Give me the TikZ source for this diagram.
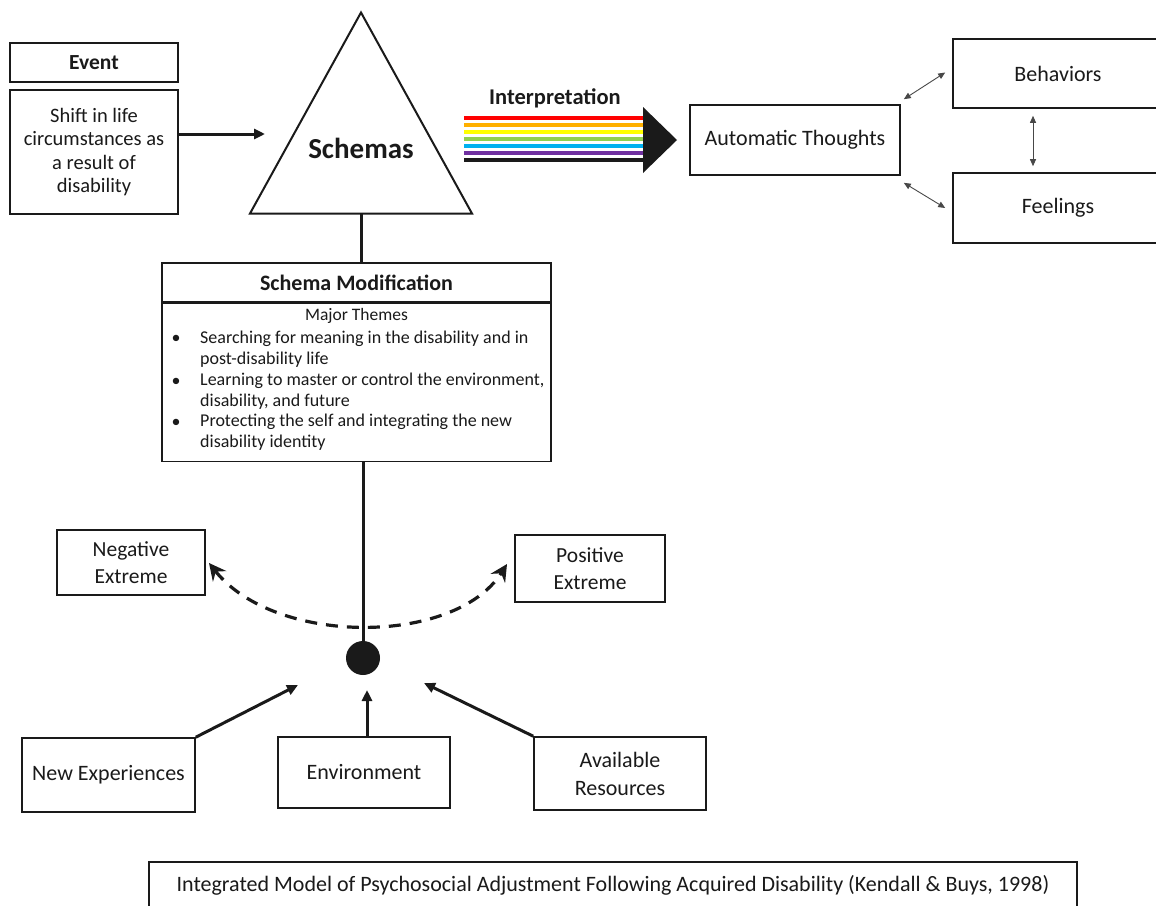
\documentclass[tikz,border=0pt]{standalone}
\usepackage{fontspec}
\setmainfont{Carlito}
\usepackage{xcolor}
\usetikzlibrary{arrows.meta,calc}
\definecolor{ink}{HTML}{1A1A1A}
\definecolor{rbred}{HTML}{FF0000}
\definecolor{rborange}{HTML}{FFB000}
\definecolor{rbyellow}{HTML}{FFFF00}
\definecolor{rbgreen}{HTML}{92D050}
\definecolor{rbblue}{HTML}{00B0F0}
\definecolor{rbpurple}{HTML}{7030A0}
\newcommand{\fs}[2]{\fontsize{#1}{#2}\selectfont}
\tikzset{
  box/.style={
    draw=ink, line width=1.6pt, fill=white, text=ink, align=center,
    inner sep=0pt, font=\fs{22}{26}
  },
  headbox/.style={box, font=\bfseries\fs{22}{26}},
  themes/.style={text=ink, align=left, inner sep=0pt, font=\fs{18}{21}},
  feed/.style={-{Triangle[length=11pt,width=10pt]}, line width=3pt, draw=ink},
  swing/.style={
    {Stealth[length=17pt,width=17pt,inset=6pt]}-{Stealth[length=17pt,width=17pt,inset=6pt]},
    line width=3.2pt, draw=ink, dash pattern=on 12pt off 9pt
  },
  link/.style={{Triangle[length=7pt,width=6pt]}-{Triangle[length=7pt,width=6pt]}, line width=0.9pt, draw=ink!80},
  stem/.style={line width=3pt, draw=ink}
}

\begin{document}
\begin{tikzpicture}[x=1pt,y=-1pt]
  \useasboundingbox (0,0) rectangle (1156,905);
  \clip (0,0) rectangle (1156,905);

  % ---- Event ----
  \node[headbox, minimum width=168pt, minimum height=39pt, font=\bfseries\fs{21.5}{26}] (event) at (94,62.5) {Event};
  \node[box, minimum width=168pt, minimum height=124pt, font=\fs{20.5}{23.5}] (shift) at (94,152)
     {Shift in life\\circumstances as\\a result of\\disability};

  % ---- Schemas ----
  \coordinate (apex) at (361,12.5);
  \coordinate (tbl) at (250,213.5);
  \coordinate (tbr) at (472,213.5);
  \coordinate (tin) at (265,134);
  \coordinate (tbase) at (361,213.5);
  \draw[line width=2pt, draw=ink, fill=white] (apex) -- (tbr) -- (tbl) -- cycle;
  \node[font=\bfseries\fs{29}{34}, text=ink] (schemas) at (361,148) {Schemas};
  \draw[feed] (shift.east |- tin) -- (tin);

  % ---- Schema modification ----
  \node[headbox, minimum width=389pt, minimum height=39pt] (modhead) at (356.5,282.5) {Schema Modification};
  \node[box, minimum width=389pt, minimum height=158pt, anchor=north] (modbody) at (modhead.south) {};
  \node[themes, font=\fs{17.5}{21}] (major) at (356.5,316) {Major Themes};
  \node[themes] (dot1) at (176,339) {\textbullet};
  \node[themes] (dot2) at (176,382) {\textbullet};
  \node[themes] (dot3) at (176,423) {\textbullet};
  \node[themes, anchor=north west] (theme1) at (200,331)
     {Searching for meaning in the disability and in\\post-disability life};
  \node[themes, anchor=north west] (theme2) at (200,373)
     {Learning to master or control the environment,\\disability, and future};
  \node[themes, anchor=north west] (theme3) at (200,414)
     {Protecting the self and integrating the new\\disability identity};

  % ---- Pivot ----
  \node[circle, fill=ink, minimum size=34pt, inner sep=0pt] (pivot) at (363,658) {};
  \draw[stem] (tbase) -- (tbase |- modhead.north);
  \draw[stem] (modbody.south -| pivot) -- (pivot);

  % ---- Extremes ----
  \node[box, minimum width=148pt, minimum height=65pt, font=\fs{21.5}{27}] (neg) at (131,562.5) {Negative\\Extreme};
  \node[box, minimum width=150pt, minimum height=67pt, font=\fs{21.5}{27}] (pos) at (590,568.5) {Positive\\Extreme};
  \coordinate (negtip) at (209,563);
  \coordinate (postip) at (507,564);
  \draw[swing] (negtip) .. controls (275,646) and (455,646) .. (postip);

  % ---- Inputs ----
  \node[box, minimum width=173pt, minimum height=74pt] (newexp) at (108.5,775) {New Experiences};
  \node[box, minimum width=172pt, minimum height=71pt] (env) at (364,772.5) {Environment};
  \node[box, minimum width=172pt, minimum height=73pt, font=\fs{22}{28}] (avail) at (620,773.5) {Available\\Resources};
  \coordinate (inleft) at (298,685);
  \coordinate (inmid) at (367,690);
  \coordinate (inright) at (424,683);
  \draw[feed] (newexp.north east) -- (inleft);
  \draw[feed] (env.north -| inmid) -- (inmid);
  \draw[feed] (avail.north west) -- (inright);

  % ---- Interpretation ----
  \node[font=\bfseries\fs{22.5}{26}, text=ink] (interp) at (555,98) {Interpretation};
  \foreach \c [count=\i] in {rbred,rborange,rbyellow,rbgreen,rbblue,rbpurple,ink}
    \draw[\c, line width=4.6pt] (464,111+7*\i) -- (644,111+7*\i);
  \fill[ink] (643,107) -- (677,140) -- (643,173) -- cycle;

  % ---- Thoughts ----
  \node[box, minimum width=210pt, minimum height=70pt] (auto) at (795,140) {Automatic Thoughts};
  \node[box, minimum width=210pt, minimum height=69pt] (behav) at (1058,73.5) {Behaviors};
  \node[box, minimum width=210pt, minimum height=70pt] (feel) at (1058,208) {Feelings};
  \draw[link] ($(auto.north east)+(3,-5)$) -- ($(behav.west)+(-7,-1)$);
  \draw[link] ($(auto.south east)+(3,7)$) -- ($(feel.west)+(-7,0)$);
  \draw[link] ($(behav.south)+(-25,7)$) -- ($(feel.north)+(-25,-6)$);

  % ---- Caption ----
  \node[box, minimum width=928pt, minimum height=46pt] (caption) at (613,885)
     {Integrated Model of Psychosocial Adjustment Following Acquired Disability (Kendall \& Buys, 1998)};
\end{tikzpicture}
\end{document}
